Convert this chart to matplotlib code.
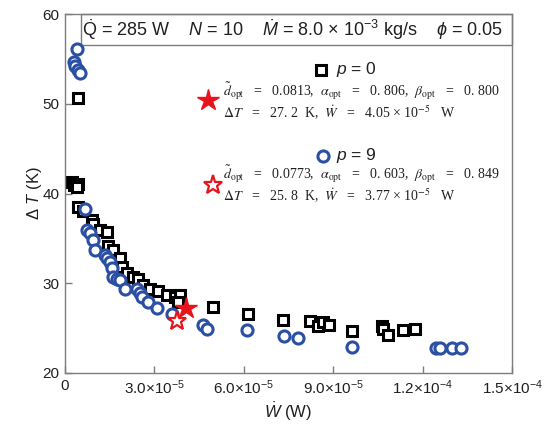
import matplotlib
matplotlib.use("Agg")
import matplotlib.pyplot as plt
from matplotlib.patches import Rectangle

plt.rcParams["font.family"] = ["Liberation Sans", "DejaVu Sans"]
plt.rcParams["mathtext.fontset"] = "custom"
plt.rcParams["mathtext.rm"] = "Liberation Sans"
plt.rcParams["mathtext.it"] = "Liberation Sans:italic"
plt.rcParams["mathtext.bf"] = "Liberation Sans:bold"

# p = 0 (squares), W in 1e-5 W, dT in K
p0_W = [0.45, 0.22, 0.30, 0.45, 0.40, 0.45, 0.60, 0.89, 0.95, 1.17, 1.40, 1.45,
        1.62, 1.85, 1.90, 2.07, 2.29, 2.46, 2.63, 2.85, 3.13, 3.41, 3.69, 3.86,
        3.80, 4.96, 6.14, 7.30, 8.22, 8.49, 8.66, 8.87, 9.64, 10.63, 10.68,
        10.83, 11.33, 11.74]
p0_T = [50.6, 41.3, 40.9, 41.1, 40.7, 38.5, 38.1, 37.0, 36.6, 35.9, 35.7, 34.1,
        33.7, 32.8, 31.8, 31.1, 30.7, 30.5, 29.8, 29.4, 29.1, 28.7, 28.5, 28.7,
        27.9, 27.4, 26.6, 25.9, 25.8, 25.2, 25.7, 25.3, 24.7, 25.2, 24.9,
        24.2, 24.8, 24.9]

# p = 9 (circles)
p9_W = [0.39, 0.30, 0.35, 0.45, 0.50, 0.67, 0.73, 0.84, 0.95, 1.01, 1.34, 1.40,
        1.51, 1.57, 1.62, 1.73, 1.85, 2.01, 2.41, 2.52, 2.57, 2.80, 3.08, 3.58,
        4.64, 4.75, 6.10, 7.35, 7.83, 9.64, 12.45, 12.60, 13.00, 13.30]
p9_T = [56.1, 54.7, 54.2, 53.8, 53.4, 38.3, 35.9, 35.6, 34.8, 33.7, 33.1, 32.8,
        32.4, 31.7, 30.7, 30.5, 30.4, 29.4, 29.4, 28.9, 28.5, 27.9, 27.2, 26.6,
        25.3, 24.9, 24.8, 24.1, 23.9, 22.9, 22.8, 22.8, 22.8, 22.8]

# optimum points
opt_W = [4.05, 3.77]
opt_T = [27.2, 25.8]

xticks = [0, 3.0, 6.0, 9.0, 12.0, 15.0]
xtick_labels = ["0", r"3.0×10$^{-5}$", r"6.0×10$^{-5}$", r"9.0×10$^{-5}$",
                r"1.2×10$^{-4}$", r"1.5×10$^{-4}$"]
yticks = [20, 30, 40, 50, 60]

blue = "#2b4fa3"
red = "#e8141b"
gray = "#7d7d7d"
txt = "#231f20"
serif = ["Liberation Serif", "DejaVu Serif"]

fig = plt.figure(figsize=(5.54, 4.28), dpi=100)
ax = fig.add_axes([65 / 554, 55 / 428, 447 / 554, 359 / 428])

ax.plot(p0_W, p0_T, ls="none", marker="s", ms=7, mfc="white", mec="black", mew=2.2)
ax.plot(p9_W, p9_T, ls="none", marker="o", ms=8, mfc="white", mec=blue, mew=2.2)
ax.plot(opt_W[0], opt_T[0], ls="none", marker="*", ms=16, color=red, mec=red)
ax.plot(opt_W[1], opt_T[1], ls="none", marker="*", ms=14, mfc="white", mec=red, mew=1.6)

ax.set_xlim(0, 15)
ax.set_ylim(20, 60)
ax.set_xticks(xticks)
ax.set_xticklabels(xtick_labels)
ax.set_yticks(yticks)
ax.tick_params(direction="in", length=5, width=1, color=gray, labelsize=11,
               labelcolor=txt, pad=4)
for s in ax.spines.values():
    s.set_color(gray)
    s.set_linewidth(1)

ax.set_xlabel(r"$\dot{W}$ (W)", fontsize=12, color=txt, labelpad=3)
ax.set_ylabel(r"$\Delta$ $T$ (K)", fontsize=12, color=txt, labelpad=-1)

# header box
ax.add_patch(Rectangle((0.036, 0.914), 0.964, 0.086, transform=ax.transAxes,
                       fill=False, edgecolor=gray, lw=1, clip_on=False))
ax.text(0.508, 0.957,
        r"$\dot{\mathrm{Q}}$ = 285 W    $N$ = 10    $\dot{M}$ = 8.0 × 10$^{-3}$ kg/s    $\phi$ = 0.05",
        transform=ax.transAxes, ha="center", va="center", fontsize=13, color=txt)

# legend / annotations
ax.plot([0.5735], [0.845], transform=ax.transAxes, ls="none", marker="s", ms=7,
        mfc="white", mec="black", mew=2.2, clip_on=False)
ax.text(0.606, 0.845, "$p$ = 0", transform=ax.transAxes, ha="left", va="center",
        fontsize=12.5, color=txt)
ax.plot([0.32], [0.76], transform=ax.transAxes, ls="none", marker="*", ms=16,
        color=red, clip_on=False)
ax.text(0.353, 0.785,
        r"$\tilde{d}_{\rm opt}$   =   0.0813,  $\alpha_{\rm opt}$   =   0. 806,  $\beta_{\rm opt}$   =   0. 800",
        transform=ax.transAxes, ha="left", va="center", fontsize=10,
        family=serif, math_fontfamily="stix", color=txt)
ax.text(0.353, 0.725,
        r"$\Delta T$   =   27. 2  K,  $\dot{W}$   =   4.05 × 10$^{-5}$   W",
        transform=ax.transAxes, ha="left", va="center", fontsize=10,
        family=serif, math_fontfamily="stix", color=txt)

ax.plot([0.578], [0.6055], transform=ax.transAxes, ls="none", marker="o", ms=8,
        mfc="white", mec=blue, mew=2.2, clip_on=False)
ax.text(0.606, 0.6055, "$p$ = 9", transform=ax.transAxes, ha="left", va="center",
        fontsize=12.5, color=txt)
ax.plot([0.332], [0.524], transform=ax.transAxes, ls="none", marker="*", ms=14,
        mfc="white", mec=red, mew=1.6, clip_on=False)
ax.text(0.353, 0.553,
        r"$\tilde{d}_{\rm opt}$   =   0.0773,  $\alpha_{\rm opt}$   =   0. 603,  $\beta_{\rm opt}$   =   0. 849",
        transform=ax.transAxes, ha="left", va="center", fontsize=10,
        family=serif, math_fontfamily="stix", color=txt)
ax.text(0.353, 0.493,
        r"$\Delta T$   =   25. 8  K,  $\dot{W}$   =   3.77 × 10$^{-5}$   W",
        transform=ax.transAxes, ha="left", va="center", fontsize=10,
        family=serif, math_fontfamily="stix", color=txt)

fig.savefig("out.png", dpi=100)
